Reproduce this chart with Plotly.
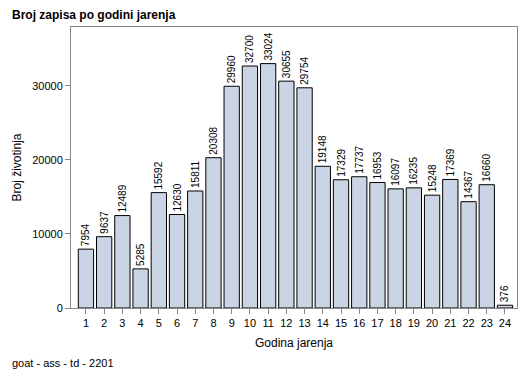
import plotly.graph_objects as go

years = list(range(1, 25))
counts = [7954, 9637, 12489, 5285, 15592, 12630, 15811, 20308, 29960, 32700, 33024, 30655,
          29754, 19148, 17329, 17737, 16953, 16097, 16235, 15248, 17369, 14367, 16660, 376]
y_ticks = [0, 10000, 20000, 30000]
y_tick_labels = ["0", "10000", "20000", "30000"]

fig = go.Figure(go.Bar(
    x=years, y=counts, width=0.84,
    marker=dict(color="#CAD4E4", line=dict(color="#000000", width=1)),
    text=[str(c) for c in counts], textposition="outside", textangle=-90,
    constraintext="none",
    textfont=dict(family="Arial, Liberation Sans", size=10, color="#000"),
    cliponaxis=False,
))

fig.update_layout(
    width=529, height=378,
    margin=dict(l=71, r=12, t=27, b=70, autoexpand=False),
    paper_bgcolor="white", plot_bgcolor="white",
    font=dict(family="Arial, Liberation Sans", size=11, color="#000"),
    showlegend=False,
    annotations=[
        dict(text="<b>Broj zapisa po godini jarenja</b>", xref="paper", yref="paper",
             x=(10 - 71) / 446, y=1 + 12 / 281, xanchor="left", yanchor="middle",
             showarrow=False, font=dict(size=12)),
        dict(text="goat - ass - td - 2201", xref="paper", yref="paper",
             x=(10 - 71) / 446, y=-55 / 281, xanchor="left", yanchor="middle",
             showarrow=False, font=dict(size=11)),
    ],
)
fig.update_xaxes(
    automargin=False,
    range=[0.18, 24.66], tickvals=years, ticks="outside", ticklen=5, tickcolor="#888",
    showline=True, linecolor="#888", mirror=True, showgrid=False, zeroline=False,
    title=dict(text="Godina jarenja", font=dict(size=12), standoff=10),
    tickfont=dict(size=11),
)
fig.update_yaxes(
    automargin=False,
    range=[0, 37970], tickvals=y_ticks, ticktext=y_tick_labels, ticks="outside", ticklen=5,
    tickcolor="#888",
    showline=True, linecolor="#888", mirror=True, showgrid=False, zeroline=False,
    title=dict(text="Broj životinja", font=dict(size=12), standoff=8),
    tickfont=dict(size=11),
)

fig.write_html("out.html", config={"displayModeBar": False},
               post_script="document.body.style.margin='0';")
